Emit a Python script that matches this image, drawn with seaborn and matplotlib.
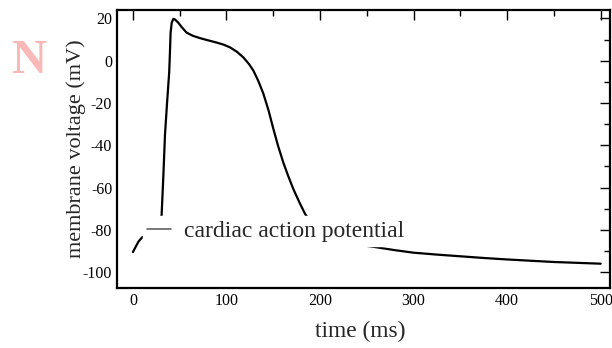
import matplotlib
matplotlib.use("Agg")
import matplotlib.pyplot as plt
import seaborn as sns
import pandas as pd
from matplotlib.ticker import MultipleLocator

time_ms = [0, 3, 6, 10, 15, 20, 25, 29, 30.7, 32.5, 34.3, 36.5, 38.8, 39.6, 40.3, 41.5, 43.2,
           45, 48.5, 52, 57.4, 64, 71.7, 80, 89.5, 97, 103.9, 111, 118, 124, 128.7,
           134, 139.4, 145, 150, 155, 160.8, 166, 171.5, 178, 184, 190, 200, 210, 222,
           240, 257, 280, 300, 325, 350, 375, 400, 425, 450, 475, 500]
voltage_mv = [-90.5, -88, -85.5, -83.5, -82.5, -81.5, -80.5, -79, -72.9, -55, -35, -20, -5.4, 4,
              13.3, 18, 19.8, 19.5, 18, 16, 13.3, 11.8, 10.7, 9.7, 8.6, 7.6, 6.3, 4.3,
              1.6, -1.5, -4.6, -9.5, -15.5, -23.5, -32, -40, -48.2, -54.5, -60.7, -67,
              -72.4, -76.5, -80.5, -83, -85, -87, -88, -89.6, -90.8, -91.7, -92.5, -93.3,
              -94, -94.6, -95.2, -95.6, -96]
series_label = "cardiac action potential"
x_label = "time (ms)"
y_label = "membrane voltage (mV)"

sns.set_style("white")
plt.rcParams["font.family"] = ["Liberation Serif", "DejaVu Serif"]
plt.rcParams["axes.unicode_minus"] = False

df = pd.DataFrame({"t": time_ms, "v": voltage_mv})

fig = plt.figure(figsize=(6.12, 3.48), dpi=100)
ax = fig.add_axes([117/612, 1-288/348, (610-117)/612, (288-10)/348])

sns.lineplot(data=df, x="t", y="v", ax=ax, color="black", linewidth=1.6,
             label=series_label, sort=False, estimator=None)

ax.set_xlim(-17, 510)
ax.set_ylim(-107.5, 24)
ax.xaxis.set_major_locator(MultipleLocator(100))
ax.xaxis.set_minor_locator(MultipleLocator(50))
ax.yaxis.set_major_locator(MultipleLocator(20))
ax.yaxis.set_minor_locator(MultipleLocator(10))
ax.tick_params(which="both", direction="in", top=True, right=True, colors="black",
               labelsize=11.5, width=1.0)
ax.tick_params(which="major", length=7)
ax.tick_params(which="minor", length=4)
for s in ax.spines.values():
    s.set_color("black")
    s.set_linewidth(1.6)

ax.set_xlabel(x_label, fontsize=16.8)
ax.xaxis.set_label_coords((360-117)/493, -(321-288)/278)
ax.set_ylabel(y_label, fontsize=16)
ax.yaxis.set_label_coords(-(117-86)/493, 0.5)

leg = ax.legend(loc="center left", bbox_to_anchor=(0.052, 0.205), borderaxespad=0,
                frameon=True, fancybox=False, fontsize=17, handlelength=1.02,
                handletextpad=0.55, borderpad=0.2)
leg.get_frame().set_edgecolor("white")
leg.get_frame().set_facecolor("white")
leg.get_frame().set_alpha(1.0)
leg.set_zorder(5)
for h in leg.legend_handles:
    h.set_color("#555555")
    h.set_linewidth(1.1)

fig.text(11/612, 1-73/348, "N", color="#f9b9b9", fontsize=35, fontweight="bold",
         ha="left", va="baseline", zorder=0)

fig.savefig("out.png", dpi=100)
